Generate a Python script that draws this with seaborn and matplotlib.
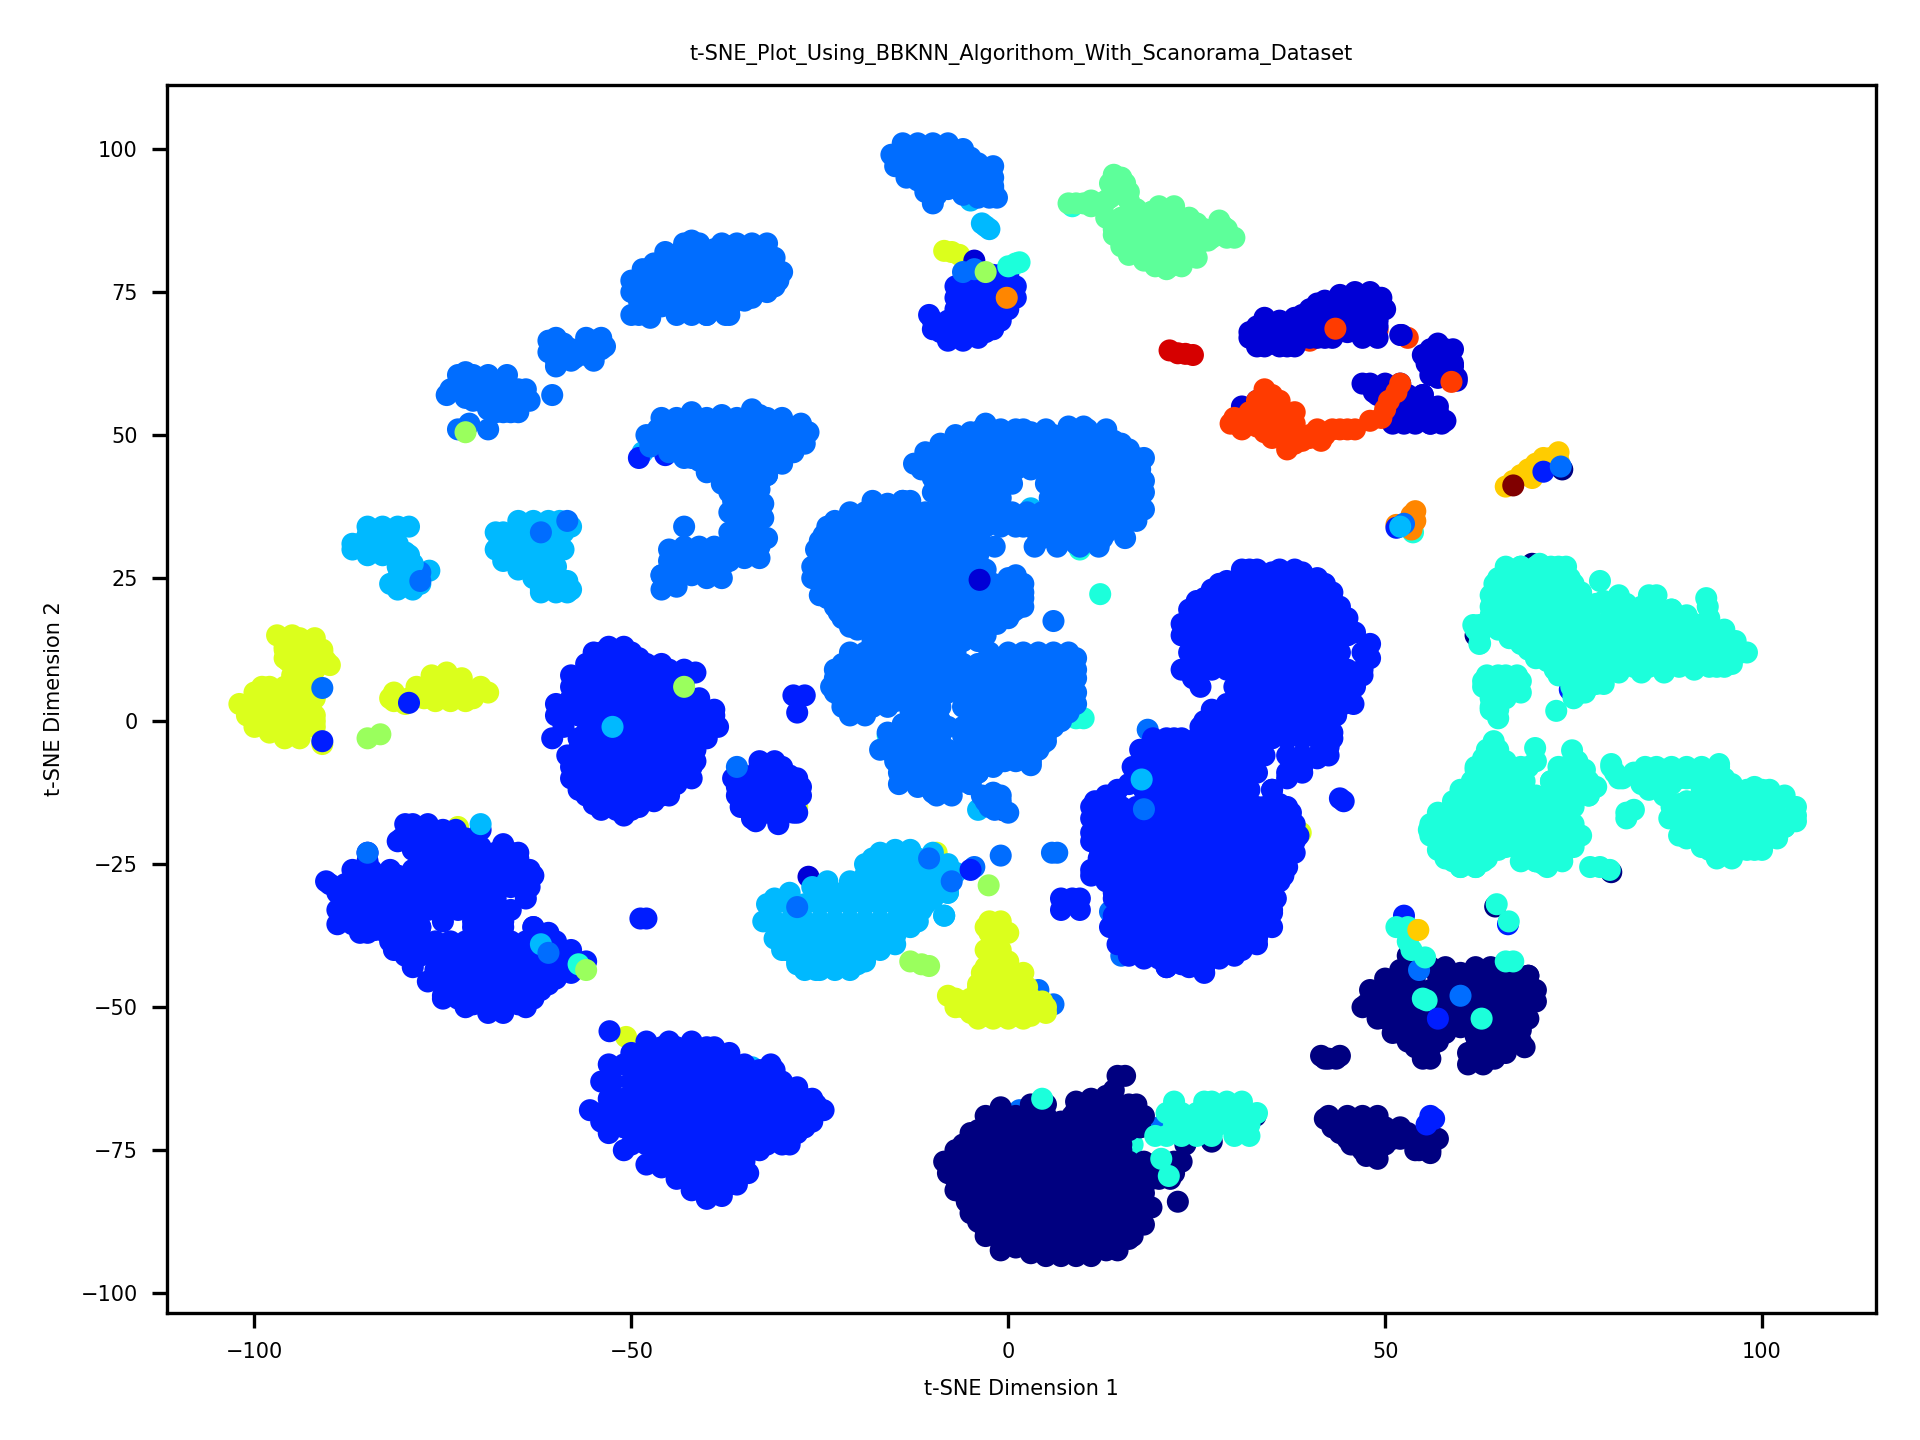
# t-SNE scatter, 14 cell type labels on the jet colormap
import matplotlib
matplotlib.use("Agg")
import matplotlib.pyplot as plt
import pandas as pd
import seaborn as sns

# clusters: label, then rows of (y, [x, x, ...])
under_points = [
    (4, -48.5, 47), (4, -46, 49), (2, -49, 46), (2, -45.5, 46.5), (2, -28.5, 4.5), (2, -27, 4.5), (2, -28, 1.5),
    (5, -16, -2.5), (5, 9, 0.5), (5, 10, 0.5), (8, -19, 2.8), (4, -20, 3.5), (4, -4, -15.5), (0, -0.8, -15.5),
    (1, 2.5, -5.4), (4, 4.5, -4), (4, 3, 37.2), (5, 9.5, 30), (3, 18.5, -1.5), (3, 11.5, -20), (3, 13.5, -33.3),
    (3, 15, -41), (8, 38.8, -19.5), (4, -76.8, 26.3), (3, -78, 26), (8, -91, -4), (8, -73, -18.5), (8, -28, -15),
    (8, -50.7, -55.2), (2, -52.9, -54.2), (4, -34, -60.5), (8, -33, -62), (1, -26.5, -27.2), (8, -9.5, -23),
    (2, -1.5, -40), (3, 4, -47), (3, 6, -49.5), (5, 16.5, -74), (0, 32.8, -69), (0, 27, -67.5), (0, 23.5, -74),
    (0, 27, -73.5), (3, 20, -71), (3, 1.5, -68), (2, 52.5, -34), (0, 53, -41), (0, 64.6, -32.4), (2, 66.3, -35.5),
    (8, -8.5, 82.2), (8, -7.5, 82), (8, -6.5, 81.5), (1, -4.5, 80.5), (4, -5, 91), (5, 8.5, 90),
    (11, 40, 66.5), (11, 49, 68.3), (11, 53, 67), (11, 47, 67.5), (0, 69.5, 27.5), (0, 62, 15), (2, 74.5, 5.5), (0, 80, -26.4),
    (1, 31, 55), (1, 33, 56), (1, 33, 53), (1, 36, 53), (0, 73.5, 44), (5, 53.7, 33),
]

# points along the cluster edges and in the gaps between the rows
edge_navy = [
    (-8.5, -77), (-8, -79), (-7, -82), (-5.5, -84), (-5, -86), (-3, -89), (-1, -91), (1, -92), (3, -93), (14, -92), (16, -90.5),
    (18, -88), (19, -85), (20, -80), (20, -78), (22, -79), (23, -77), (15, -75), (13, -73), (15, -71.5), (17.5, -71), (17, -67),
    (9, -68), (7, -70), (-1, -67.5), (-3, -69), (-5, -72), (-6, -74), (-7, -75), (9, -66.5), (11, -66), (13, -65.5), (14, -64.5), (18, -69),
    (47, -50), (48, -47), (50, -45), (52, -43.5), (54, -44), (56, -43), (58, -43), (60, -44), (62, -43), (64, -43), (66, -43),
    (69, -44.5), (70, -47), (70, -49), (69, -52), (68, -54), (68, -56), (66, -58), (63, -60), (61, -60), (61, -58), (62, -55),
    (52, -53), (51, -54.5), (53, -56), (55, -58), (56, -59), (57, -56), (58, -53), (60, -50), (62, -53), (60, -53.5),
    (41.5, -58.5), (44, -58.5), (42, -69.5), (43, -71), (44, -72), (45.5, -74), (47.5, -76), (49, -76.5), (50, -74), (52, -73),
    (53, -72), (54.5, -75), (56, -75.5), (57, -73), (55, -72.5), (46, -70),
]
edge_dark_blue = [
    (32, 68), (32, 67), (33, 65.5), (35, 66), (37, 65.5), (39, 67), (41, 67), (43, 67), (45, 68), (47, 69), (49, 70), (50, 72),
    (49.5, 74), (46, 75), (48, 75), (44, 74.5), (42, 73.5), (40, 72), (38, 70.5), (36, 70), (34, 70.5), (44, 72), (46, 72), (48, 72),
    (55, 64), (57, 66), (59, 65), (59, 62), (59.5, 60), (57, 60),
    (47, 59), (48.5, 57.5), (50, 56), (52, 54), (53, 56), (55, 57), (57, 54), (58, 52.5), (51, 52), (54, 53.5), (56, 52),
]
edge_blue = [
    (-10.5, 71), (-10, 68.5), (-8, 66.5), (-6, 66.5), (-4, 67), (-2, 68.5), (-1, 70), (0, 72), (1, 74), (1, 76), (0, 78), (-2, 78),
    (-3, 76), (-4, 78), (-6, 77), (-6, 74), (-7, 76),
    (-55, 12), (-49, 11), (-47, 9.5), (-45, 9), (-41.5, 8.5), (-41, 4), (-39, 2), (-38.5, -1), (-40, -3), (-41.5, -7), (-42, -10),
    (-44, -11), (-45, -13), (-47, -14), (-49, -15), (-51, -16.5), (-53, -15), (-55, -14.5), (-57, -12), (-58, -10), (-58.5, -6),
    (-57, -3), (-59, -1), (-60, 1), (-60, 3), (-58, 6), (-58, 8), (-56, 8.5), (-54, 12), (-52, 12), (-50, 12), (-48, 8), (-46, 6),
    (-44, 3), (-52, -3), (-50, -9),
    (-36, -13), (-35.5, -15), (-33, -8), (-30, -8), (-28, -10), (-27.5, -13), (-28, -16), (-34, -17), (-30.5, -18), (-36.5, -10),
    (-34, -10.5), (-30, -12),
    (-90.5, -28), (-89, -30), (-88, -34), (-86, -36.5), (-84, -36.5), (-82.5, -37), (-85, -24.5), (-83, -27), (-81, -27), (-79, -34),
    (-78, -36), (-80, -38), (-81.5, -40), (-79, -43), (-77, -45.5), (-75, -48), (-72, -50), (-69, -51), (-67, -51), (-64, -50),
    (-62, -47), (-60, -45), (-58, -44), (-56, -42), (-58, -40), (-61, -37), (-63, -36), (-66, -33), (-67.5, -34.5), (-70, -34),
    (-64, -31), (-63, -27), (-65, -24), (-67, -21.5), (-70, -22), (-72, -22), (-74, -24), (-75, -19), (-78, -20), (-81, -21),
    (-79, -22.5), (-76, -31), (-77, -33), (-83, -31),
    (-55.5, -68), (-54, -63), (-53, -60), (-50, -58), (-48, -56), (-45, -56), (-42, -56), (-39, -57), (-37, -58), (-33, -61), (-31, -61),
    (-28, -64), (-25.5, -67), (-24.5, -68), (-26, -70), (-28, -72), (-29, -74), (-33, -75), (-35, -77), (-34.5, -79), (-36, -81),
    (-38, -83), (-40, -83.5), (-42, -82), (-44, -80), (-46, -78), (-48, -77.5), (-51, -75), (-53, -72), (-54, -70), (-37, -61), (-35, -60),
    (23, 17), (24, 19.5), (26, 21.5), (27, 23), (29, 24.5), (32, 26.5), (35, 26), (39, 26), (41, 25), (43, 22.5), (44, 20), (45, 18),
    (46, 15.5), (48, 13.5), (48, 11), (47, 8), (46, 6), (44, 5), (44.5, 3), (43.5, 1), (43, -2), (42.5, -4.5), (41, -6.5), (39, -8),
    (37, -10), (35, -12), (24.5, 7.5), (27, 2), (25.5, -1), (22, -3), (20, -3.5), (17.5, -5), (16.5, -8), (16, -11), (13, -13), (11.5, -14),
    (11, -17), (11, -19.5), (12, -22), (12.5, -24.5), (11, -26), (13, -28), (14, -31), (14, -34), (13.5, -36), (14.5, -39), (16, -40.5),
    (18, -41.5), (20, -41.5), (21, -43), (23, -42.5), (26, -44), (28, -41.5), (31, -40), (33, -38), (35, -36), (35, -33.5), (35.5, -31),
    (36, -28), (37, -25.5), (38, -23), (38.5, -20), (37.5, -16), (36, -14.5), (34, -15),
]
edge_light_blue = [
    (-15.5, 99), (-15, 97), (-13.5, 95), (-12, 94.5), (-11, 92.5), (-9.5, 92), (-10, 90.5), (-8, 93), (-6, 92), (-4, 91.5), (-2, 95),
    (-2, 93), (-1.5, 91.5), (-2, 97), (-4, 97.5), (-6, 100), (-13, 100), (-11, 100), (-9, 100), (-7, 97), (-5, 94.5), (-3, 92),
    (-50, 77), (-50, 75), (-48.5, 79), (-47, 80), (-45.5, 82), (-43.5, 82), (-42, 84), (-39, 82.5), (-37, 83), (-35, 82.5), (-33, 82),
    (-31, 79), (-30.5, 77), (-32, 75), (-34, 74), (-37, 72), (-40, 71), (-42, 73), (-44, 74), (-46, 72.5), (-48, 72), (-50, 71),
    (-47.5, 70.5), (-39, 74), (-33, 77), (-45, 77), (-37.5, 71), (-41, 81), (-47, 74.5), (-32, 80),
    (-61, 66.5), (-61, 64.5), (-59.5, 63), (-57.5, 63.5), (-55, 66.5), (-53.5, 65.5), (-58, 65), (-56, 64), (-59, 66), (-60, 62),
    (-74.5, 57), (-73, 59), (-72, 56.5), (-70, 60), (-70, 56), (-68, 59), (-68, 56), (-65, 58), (-65.5, 56), (-64, 56.5), (-67, 54),
    (-65, 54), (-69, 54.5), (-72, 61),
    (-48, 50), (-46.5, 51), (-45, 47), (-43, 46), (-42, 46), (-40, 45), (-40, 43.5), (-38, 41.5), (-30, 46), (-28.5, 47), (-27, 48.5),
    (-30, 45), (-32, 43), (-34, 41), (-37, 40), (-36.5, 38.5), (-37, 36.5), (-32.5, 38), (-32.5, 35.5), (-32, 32), (-36, 31), (-33, 28.5),
    (-35, 28.5), (-44, 26), (-46, 25.5), (-42, 29), (-40, 25), (-38, 25), (-38, 27), (-44, 23.5), (-42, 26), (-40, 27), (-36, 33), (-45, 30),
    (-44, 29), (-27.5, 52), (-28, 50), (-30, 52), (-38, 53.5), (-42, 54), (-34, 54.5), (-33, 53.5), (-31, 52),
    (-12.5, 45), (-11, 47), (-9, 48.5), (-7, 50), (-5, 50.5), (-3, 52), (-1, 50), (1, 51), (3, 50.5), (6, 50), (8, 51.5), (10, 51.5),
    (12, 50), (14, 49), (16, 47.5), (18, 46), (17.5, 44), (18, 42), (18, 40), (18, 37), (17, 35), (15, 33.5), (13, 33), (11, 32), (9, 31),
    (6.5, 32), (4, 32), (2, 34), (0, 35), (-3, 35.5), (-5, 37), (-6.5, 35), (-10, 40), (-10, 42.5), (-8, 37.5),
    (-26, 27), (-25.5, 30), (-24.5, 32.5), (-23, 35), (-20.5, 35.5), (-18, 37), (-16, 38), (-14, 38.5), (-26, 25), (-25, 22), (-23, 20),
    (-22, 18), (-20, 16), (-18, 15), (-4, 24), (-4, 22), (-4, 29), (-3.5, 31), (-4, 33), (-5, 35), (2, 22.5), (2, 20), (0, 18), (1, 19.5),
    (-1.5, 17), (-3, 15), (0, 25), (1, 25.5),
    (-23, 9), (-23.5, 6), (-22, 3.5), (-21, 1), (-19, 1), (-17.5, 3), (-15, 3.5), (-13, 2), (-14, -0.5), (-16, -2), (-17, -5), (-15, -7),
    (-14.5, -9), (-12, -11.5), (-10, -12.5), (-8, -12), (-5, -11), (-4, -9), (-2, -12.5), (-1, -14), (0, -16), (-3, -14), (-6, -1), (-8, -1),
    (-9, 0), (-15.5, -4), (9, 9), (9, 11), (8.5, 5), (9, 3), (8, 1.5), (6, -1), (5, -3.5), (3, -5), (1, -6), (-0.5, -7), (-2, -6.5), (-2, -8),
]
edge_sky = [
    (-87, 31), (-85, 32.5), (-83, 31), (-81, 31), (-80, 29.5), (-85, 30), (-79, 27.5), (-81, 25), (-78, 24), (-82, 24),
    (-68, 33), (-68, 30), (-67, 28), (-65, 26.5), (-63, 25), (-60, 27), (-59, 30), (-60, 32), (-58, 34), (-62, 23), (-59, 24), (-58, 23),
    (-63, 30), (-61, 33),
    (-32, -32), (-32.5, -35), (-31, -38), (-30, -40), (-28, -42), (-25.5, -43.5), (-23, -43), (-19, -42), (-17, -40), (-15, -37.5),
    (-13, -36), (-11.5, -33), (-10, -31), (-8, -30), (-7, -26.5), (-8, -25), (-10, -23), (-13, -22.5), (-15, -22.5), (-17, -23), (-19, -25),
    (-21, -28), (-24, -28), (-26, -29), (-29, -30), (-31, -31), (-15, -39), (-17, -26), (-15, -25), (-12, -25),
]
edge_cyan = [
    (62, -8.5), (56, -20), (57.5, -22), (58, -24), (60, -25.5), (62, -25.5), (63.5, -24), (66, -22), (67, -21), (68, -23), (70, -24.5),
    (71, -25), (73.5, -23), (75, -22), (76, -20), (75, -18), (75, -15), (74, -11), (73, -8), (70, -7), (66.5, -9.5), (66, -11), (60, -12),
    (59, -14), (57, -16), (55.8, -19), (64, -16), (66, -15.5), (67, -15), (74, -16), (72, -10.5), (73.5, -11), (76.5, -8.5), (75.5, -7),
    (78, -11.5), (77, -13), (76.5, -10.5), (60.5, -14), (62, -11), (64, -8), (66, -7), (63.5, -5), (65, -5),
    (80, -7.5), (80.5, -9), (81.5, -10), (83, -9), (84, -11), (85.5, -11.5), (87, -13), (89, -14.5), (90, -16), (90, -18.5), (91, -20),
    (89, -20), (92, -22), (94, -23.5), (96, -23), (98, -22.5), (100, -22), (102, -20), (103, -18.5), (104.5, -17.5), (104.5, -15),
    (103, -13), (101, -12), (99, -11.5), (96, -11), (94.3, -7.5), (88, -11), (90, -10), (92, -10), (87, -8.5), (88, -15),
    (64, 22), (64.5, 24), (66, 26), (68, 27), (70.5, 27.5), (73, 27), (75, 24), (76, 22), (75.5, 20), (75, 18), (64, 20), (64, 18.5),
    (65, 16), (66.5, 14.5), (68, 13.5), (70, 11), (71.5, 10.5), (72.5, 9), (73, 8), (75.5, 8), (79, 8), (81, 8.5), (84, 8.5), (87, 8.5),
    (91, 9), (94, 9.5), (96, 10), (98, 12), (96.5, 14), (95, 16), (93, 18), (92.8, 20), (90, 18.5), (88, 19.5), (85.5, 21), (84, 20),
    (82, 20.5), (80, 19.5), (78, 20.5), (77, 18), (77, 16), (76, 15), (74.5, 16.5), (76, 10.5), (78, 7.5), (79, 6.5), (76.5, 5), (75, 4),
    (74.7, 6), (65, 3), (66, 4.5), (63, 7), (68, 7), (68, 5), (66, 8), (65, 0.5), (64, 2.5), (62, 16), (62.5, 15), (62.5, 13.5),
]
edge_green = [
    (13, 88), (14, 85), (15, 83), (16, 81.5), (18, 82), (19, 89), (20, 90), (22, 90), (24, 88), (25, 87), (26, 85), (25, 83), (25, 81),
    (23, 80), (21, 79), (17, 87), (20, 85), (18, 84), (22, 85), (14, 86), (15, 88), (17, 89.5), (18, 80.5), (24, 84), (15, 95), (14, 95.5),
    (13.5, 94), (15.5, 94), (16, 91), (14, 92), (11, 90), (8, 90.5), (28, 87.5), (29, 86), (30, 84.5), (26, 86),
]
edge_yellow = [
    (-97, 15), (-95, 15), (-93, 14), (-91, 12), (-90.5, 10.5), (-92, 9), (-96, 11), (-95, 8), (-93, 6), (-97, 5), (-99, 6), (-100, 5),
    (-102, 3), (-101, 1), (-100, -1), (-98, -1), (-96, -3), (-94, -3), (-92, -1), (-92, 1), (-92, 4), (-94, 2), (-96, 2), (-96, 13),
    (-80, 3), (-82, 4), (-78, 4.5), (-75, 7), (-73, 6), (-71, 4), (-78, 5), (-70, 6),
    (-8, -48), (-7, -50), (-5, -51), (-4, -46.5), (-3, -43), (-1, -42), (-3, -40), (-3, -36), (-1, -36), (0, -37), (-2, -38), (-1, -40),
    (0, -42), (2, -44), (2.5, -46.5), (4.5, -49), (5, -51), (2, -52), (0, -52), (-2, -52), (-4, -52), (-6, -49), (3, -49),
]
edge_orange_red = [
    (30, 53), (31, 51), (33, 51.5), (33, 55), (35, 57), (37, 52.5), (37, 50), (40, 49.5), (43, 51), (46, 51), (38, 48.5), (35, 49.5),
    (37, 47.5), (41.5, 49),
]

navy_blob = [
    (-62, [14.5, 15.5]), (-67, [3, 5, 12, 14, 16]), (-69, [-1, 1, 3, 5, 8.5, 11, 13, 15, 16.5]),
    (-71.5, [-4, -2, 0, 2, 4, 6, 8, 10, 12, 14, 16]), (-74, [-5, -3, -1, 1, 3, 5, 7, 9, 11, 13, 15]),
    (-77, [-7, -6, -4, -2, 0, 2, 4, 6, 8, 10, 12, 14, 16, 18, 20, 22]),
    (-80, [-7, -5, -3, -1, 1, 3, 5, 7, 9, 11, 13, 15, 17, 19, 21.5]),
    (-82.5, [-6, -4, -2, 0, 2, 4, 6, 8, 10, 12, 14, 16, 18]), (-84, [22.5]),
    (-85, [-5, -3, -1, 1, 3, 5, 7, 9, 11, 13, 15, 17, 18.5]),
    (-87.5, [-4, -2, 0, 2, 4, 6, 8, 10, 12, 14, 16, 17.5]),
    (-90, [-3, -1, 1, 3, 5, 7, 9, 11, 13, 15, 16.5]),
    (-92.5, [-1, 3, 5, 7, 9, 11, 13, 14.5]), (-93.5, [5, 7, 9, 11]),
]
navy_right = [
    (-44.5, [52, 54, 57, 59, 61, 63, 65, 67, 69]), (-47, [50, 52, 54, 56, 58, 60, 62, 64, 66, 68, 69.5]),
    (-49.5, [47.5, 49, 51, 53, 55, 57, 59, 61, 63, 65, 67, 69]), (-52, [49, 50, 52, 54, 56, 58, 60, 63, 65, 67]),
    (-54.5, [52, 54, 56, 58, 64, 66, 67]), (-57, [54, 56, 62, 64, 66, 68.5]), (-59, [55, 62, 63, 64.5]),
]
navy_small = [
    (-59, [42, 42.5, 43.5]), (-69, [42.5, 45, 47, 49]), (-71, [43.5, 46, 48, 50, 52]), (-73, [45, 47, 49, 51, 54, 56]),
    (-75, [47, 49, 54, 56]), (-75.6, [48.7]),
]
dark_blue_top = [
    (73, [41, 43, 45, 47, 48.5]), (71, [39, 41, 43, 45, 47, 49]), (69, [33, 35, 37, 39, 41, 43, 45, 47, 49]),
    (67.5, [52]), (67, [32.5, 34, 36, 38, 40, 42, 47, 49]), (65.5, [34, 36, 38]), (65, [56, 58]), (62.5, [55.5, 57.5, 59]),
    (60.5, [56, 58]), (59.5, [59.5]),
]
dark_blue_low = [
    (59, [48, 50, 52]), (57, [49, 51, 53, 55]), (55, [51, 53, 55, 57]), (53, [52, 54, 56, 57]), (52, [52.5, 54, 56, 57.5]),
]
blue_top = [
    (76, [-6, -4, -2, 0]), (78, [-5, -3, -1]), (74, [-7, -5, -3, -1, 0.5]), (72, [-7, -5, -3, -1]),
    (70, [-10, -8, -6, -4, -2]), (68, [-9, -7, -5, -3]), (67.5, [-8, -6]),
]
blue_left_a = [
    (13, [-53, -51]), (10, [-56, -54, -52, -50, -48, -46]), (9, [-43]), (7, [-57, -55, -53, -51, -49, -47, -45, -43]),
    (4, [-58, -56, -54, -52, -50, -48, -46, -44, -42]), (1, [-59, -57, -55, -53, -51, -49, -47, -45, -43, -41, -39]),
    (-2, [-56, -54, -52, -50, -48, -46, -44, -42, -40]), (-3, [-60.5]),
    (-5, [-57, -55, -53, -51, -49, -47, -45, -43, -41.5]), (-8, [-58, -56, -54, -52, -50, -48, -46, -44, -42]),
    (-11, [-57, -55, -53, -51, -49, -47, -45]), (-13, [-56, -54, -52, -50, -48, -46]), (-15.5, [-54, -52, -50]),
]
blue_left_b = [
    (-7, [-33, -31]), (-9.5, [-35, -33, -31, -29]), (-11.5, [-36, -34, -32, -30, -28, -27.5]),
    (-14, [-35, -33, -31, -29]), (-16, [-34, -32, -30, -28.5]), (-17.5, [-33.5, -30.5]),
]
blue_left_c = [
    (-23, [-85]), (-26, [-87, -84.5, -82]), (-28.5, [-90, -88, -86, -84, -82, -80]), (-31, [-88, -86, -84, -82, -80]),
    (-33, [-89, -87, -85, -83, -81]), (-35.5, [-89, -87, -85, -83]), (-37, [-86, -85]),
    (-18, [-80, -79, -77]), (-19, [-73.3, -70]), (-20.5, [-80.5, -78, -76, -74, -72]),
    (-23, [-78, -76, -74, -72, -70, -68, -66, -65]), (-26, [-79, -77, -75, -73, -71, -69, -67, -65, -63.5]),
    (-29, [-78, -76, -74, -72, -70, -68, -66, -64, -63.5]), (-31, [-78, -76, -74, -72, -70, -68]),
    (-33, [-75, -73, -71, -69, -68]), (-35, [-75, -71, -69, -67]),
    (-36, [-82, -80, -78, -71, -69, -67, -63]), (-38.5, [-82, -80, -78, -76, -74, -72, -70, -68, -66, -64, -62, -60]),
    (-41, [-80, -78, -76, -74, -72, -70, -68, -66, -64, -62, -60, -58]), (-43.5, [-76, -74, -72, -70, -68, -66, -64, -62, -60, -58]),
    (-46, [-75, -73, -71, -69, -67, -65, -63, -61]), (-48.5, [-75, -73, -71, -69, -67, -65, -63]),
    (-49.5, [-71, -67, -65]), (-34.5, [-48.8, -48]),
]
blue_bottom = [
    (-57, [-48, -46, -44, -42, -40]), (-60, [-51, -49, -47, -45, -43, -41, -39, -37, -31.5]),
    (-63, [-52.5, -50, -48, -46, -44, -42, -40, -38, -36, -34, -32, -30]),
    (-66, [-53, -51, -49, -47, -45, -43, -41, -39, -37, -35, -33, -31, -29, -27, -26]),
    (-68.5, [-54, -52, -50, -48, -46, -44, -42, -40, -38, -36, -34, -32, -30, -28, -26]),
    (-71, [-53, -51, -49, -47, -45, -43, -41, -39, -37, -35, -33, -31, -29, -27]),
    (-74, [-50, -48, -46, -44, -42, -40, -38, -36, -34, -32, -30]),
    (-76.5, [-47, -45, -43, -41, -39, -37, -35]), (-79, [-44, -42, -40, -38, -36]),
    (-81, [-41, -39, -37]), (-82.5, [-40]),
]
blue_center = [
    (26.5, [31, 33, 36, 38]), (24, [28, 30, 32, 34, 36, 38, 40, 42]), (21, [25, 27, 29, 31, 33, 35, 37, 39, 41, 43]),
    (18, [24, 26, 28, 30, 32, 34, 36, 38, 40, 42, 44]), (15, [23, 25, 27, 29, 31, 33, 35, 37, 39, 41, 43, 45]),
    (12, [24, 26, 28, 30, 32, 34, 36, 38, 40, 42, 44, 47]), (9, [23, 25, 27, 29, 31, 33, 35, 37, 39, 41, 43, 45, 47]),
    (6, [25.5, 30, 32, 34, 36, 38, 40, 42, 44]), (3, [29, 31, 33, 35, 37, 39, 41, 43, 45.8]),
    (0, [26, 28, 30, 32, 34, 36, 38, 40, 42]), (-3, [19.2, 21, 23, 25, 27, 29, 31, 33, 35, 37, 39, 41, 43]),
    (-6, [18, 20, 22, 24, 26, 28, 30, 32, 34, 37, 39, 41, 42.5]), (-9, [17, 19, 21, 23, 25, 27, 29, 31, 33, 37, 39]),
    (-12, [14.5, 18, 20, 22, 24, 26, 28, 30, 32, 35]), (-13.5, [44]), (-14, [44.5]),
    (-15, [11, 13, 15, 17, 19, 21, 23, 25, 27, 29, 31, 33, 35, 37]),
    (-18, [12, 14, 16, 18, 20, 22, 24, 26, 28, 30, 32, 34, 36, 38]),
    (-21, [11, 13, 15, 17, 19, 21, 23, 25, 27, 29, 31, 33, 35, 37, 38]),
    (-24, [12, 14, 16, 18, 20, 22, 24, 26, 28, 30, 32, 34, 36]),
    (-27, [11, 13, 15, 17, 19, 21, 23, 25, 27, 29, 31, 33, 35, 36.5]),
    (-30, [14, 16, 18, 20, 22, 24, 26, 28, 30, 32, 34]), (-33, [15, 17, 19, 21, 23, 25, 27, 29, 31, 33, 35]),
    (-36, [14, 16, 18, 20, 22, 24, 26, 28, 30, 32, 34]), (-39, [15, 17, 19, 21, 23, 25, 27, 29, 31, 33]),
    (-41, [16, 18, 20, 22, 24, 26, 28, 30]), (-43, [21, 24, 26]),
    (-31, [7, 8.5, 9.5]), (-33, [7, 9.5]),
]
light_blue_top = [
    (101, [-14, -12, -10, -8]), (98.5, [-15, -13, -11, -9, -7, -5]), (96, [-13, -11, -9, -7, -5, -3]),
    (93.5, [-10, -8, -6, -4, -2]), (91.5, [-10, -2.5]),
]
light_blue_upper = [
    (83.5, [-43, -41, -38, -36, -34, -32]), (81, [-45, -43, -41, -39, -37, -35, -33, -31]),
    (78.5, [-47, -45, -43, -41, -39, -37, -35, -33, -31, -30]), (76, [-49, -47, -45, -43, -41, -39, -37, -35, -33, -31]),
    (73.5, [-49, -47, -45, -43, -41, -39, -37, -35]), (71, [-49, -44, -42, -40, -37]),
    (67, [-60, -56, -54]), (65, [-60.5, -58, -56, -54]), (63, [-60, -58, -55]),
    (60.5, [-73, -71, -69, -66.5]), (58, [-74, -72, -70, -68, -66, -64]), (57, [-60.5]),
    (56, [-71, -69, -67, -65, -63.5]), (54, [-68, -66]), (52, [-71.5]), (51, [-73, -69]),
]
light_blue_arm = [
    (53, [-46, -44, -42, -40, -38, -36, -34, -32, -30]), (50.5, [-46, -44, -42, -40, -38, -36, -34, -32, -30, -28, -26.5]),
    (48, [-47.5, -45, -43, -41, -39, -37, -35, -33, -31, -29]), (45.5, [-41, -39, -37, -35, -33, -31]),
    (43, [-38, -36, -34, -32]), (40.5, [-36, -34, -33]), (38, [-35.5, -33.5]), (35.5, [-35, -33.5]), (34, [-43]),
    (33, [-37, -35, -34]), (30.5, [-43, -41, -39, -37, -35, -33]), (28, [-45, -43, -41, -39, -37]),
    (25.5, [-46, -44, -42, -39.5, -38.5]), (23, [-46]),
]
light_blue_center = [
    (51, [-3.5, -1, 2, 5, 8, 10.5, 13]), (48.5, [-7, -5, -3, -1, 1, 3, 5, 7, 9, 11, 13, 15]),
    (46, [-9.5, -7.5, -5, -3, -1, 1, 3, 5, 7, 9, 11, 13, 15, 17]),
    (44, [-11.5, -9, -7, -5, -3, -1, 1, 3, 5, 7, 9, 11, 13, 15, 17]),
    (41.5, [-9, -7, -5, -3, -1, 0.5, 5, 7, 9, 11, 13, 15, 17.5]),
    (39, [-9, -7, -5, -3, -1, 5.5, 7.5, 9.5, 11.5, 13.5, 15.5, 17.5]),
    (36.5, [-8, -5.5, -3.5, -1.5, 0.5, 2.5, 4.5, 6.5, 8.5, 10.5, 12.5, 14.5, 17]),
    (34, [-3, -1, 1, 3, 5, 7, 9, 11, 13, 15]), (32, [4.5, 6.5, 8.5, 10.5, 12.5, 15.5]), (30.5, [3.5, 6.5, 9.5, 12, -1.8]),
    (38.5, [-18, -14, -13]), (36.5, [-21, -19, -17, -15, -13, -11, -9]),
    (34, [-24, -22, -20, -18, -16, -14, -12, -10, -8, -6]), (31.5, [-25, -23, -21, -19, -17, -15, -13, -11, -9, -7, -5]),
    (29, [-24, -22, -20, -18, -16, -14, -12, -10, -8, -6]),
    (26.5, [-25.5, -23, -21, -19, -17, -15, -13, -11, -9, -7, -5, -3]),
    (25, [0.5]), (24, [-24.5, -22, -20, -18, -16, -14, -12, -10, -8, -6, -4, -2, 0, 2]),
    (21.5, [-24, -23, -21, -19, -17, -15, -13, -11, -9, -7, -5, -3, -1, 1, 2]),
    (19, [-22.5, -20, -18, -16, -14, -12, -10, -8, -6, -4, -2, 0.5]),
    (16.5, [-21, -19, -17, -15, -13, -11, -9, -7, -5, -3]), (17.5, [6]),
    (14, [-18, -16, -14, -12, -10, -8, -6, -4]),
    (12, [-21, -19, -17, -15, -13, -11, -9, -7, -2.5, 0, 2, 4, 6, 8]),
    (10, [-22, -20, -18, -16, -14, -12, -10, -8, -6, -4, -2, 0, 2, 4, 6, 8.5]),
    (7.5, [-23, -21, -19, -17, -15, -13, -11, -9, -7, -5, -3, -1, 1, 3, 5, 7, 9]),
    (5, [-23, -22, -20, -18, -16, -14, -12, -10, -8, -6, -4, -2, 0, 2, 4, 6, 8, 9]),
    (2.5, [-22, -20, -18, -16, -11, -9, -6, -4, -2, 0, 2, 4, 6, 8]),
    (0, [-12, -10, -5, -3, -1, 1, 3, 5, 7]), (-2.5, [-15, -13, -11, -9, -6, -4, -2, 0, 2, 4, 5]),
    (-5, [-16, -14, -12, -10, -8, -6, -4, -2, 0, 2, 4]), (-7, [-13, -11, -9, -7, -5, -4, -1, 1, 3]), (-9, [-13, -11, -9, -7, -5, -4]),
    (-11, [-14.5, -11, -9, -7, -5]), (-13, [-9.5, -7.5, -3.5, -1]), (-15, [-2.5, -1.8, -1]),
    (-7.7, [3]), (-23, [5.8, 6.5]), (-23.5, [-1]), (-25.5, [-4.5]),
]
sky_clusters = [
    (34, [-85, -83, -81, -79.5]), (31, [-86, -84, -82]), (30, [-87]), (29, [-85, -83, -81, -79.5]), (27, [-81]), (26, [-80]),
    (24, [-81, -79]), (23, [-81, -79]),
    (35, [-65, -63, -61, -59.5]), (33, [-67, -65, -63, -61, -59]), (31, [-67.5, -66, -64, -62, -60]), (29, [-67, -65, -63, -61]),
    (27, [-65, -63, -60.5]), (24.5, [-62, -60, -58.5]), (22.5, [-62, -60, -58.5]),
]
sky_blob = [
    (-24, [-18, -16, -14, -12, -10]), (-27, [-19, -17, -15, -13, -11, -9, -7.5]),
    (-30, [-24, -22, -20, -18, -16, -14, -12, -10, -8]), (-32, [-31, -29, -27, -25, -23, -21, -19, -17, -15, -13, -11]),
    (-35, [-31, -29, -27, -25, -23, -21, -19, -17, -15, -14, -12]), (-34, [-8.5]),
    (-37.5, [-30, -28, -26, -24, -22, -20, -18, -16]), (-40, [-29.5, -27, -25, -23, -21, -19]),
    (-42.5, [-28, -26, -24, -22, -20]), (-43.5, [-27, -25, -23, -21]), (87, [-3.5]), (86.5, [-3]), (86, [-2.5]),
]
cyan_upper = [
    (27, [66, 68, 70, 72, 74]), (25, [65, 67, 69, 71, 73, 74.5]), (24.5, [78.5]), (22.5, [64.5, 66, 68, 70, 72, 74, 76]),
    (21.5, [92.6]), (22, [81, 85, 86]), (21, [79]), (20, [65, 67, 69, 71, 73, 75]), (19.5, [80, 82, 84, 86, 88]),
    (17.5, [65, 67, 69, 71, 73]), (17, [77, 79, 81, 83, 85, 87, 89, 91, 93]), (16.8, [61.7, 62.5]),
    (15, [68, 70, 72, 74]), (14.5, [75, 77, 79, 81, 83, 85, 87, 89, 91, 93, 95]), (13.6, [62.6]),
    (12.5, [69, 71, 73]), (12, [75, 77, 79, 81, 83, 85, 87, 89, 91, 93, 95, 97.2]),
    (9.5, [73, 75, 77, 79, 81, 83, 85, 87, 89, 91, 93, 95]), (8, [63.5, 65, 67.5]), (6.5, [78]), (6, [63, 65, 67.5, 77]),
    (5, [76]), (4.5, [75]), (4, [64, 66]), (2, [65, 64]), (1.8, [72.7]),
]
cyan_lower = [
    (-3.5, [64.4]), (-4.7, [69.9]), (-5.1, [74.8]), (-6.5, [63, 65]), (-8, [62, 64, 66, 68, 69, 74, 75.5, 80, 84.5, 86, 88, 90, 92, 94.3]),
    (-10, [81, 85, 87, 89, 91, 93, 95]), (-10.5, [61.5, 63, 65, 67, 68.5, 72, 75, 77]), (-12, [85, 87, 92, 94, 96, 98, 100]),
    (-13, [61, 63, 65, 67, 68, 70, 72, 74, 75.5, 77]), (-14, [90, 92, 94, 96, 98, 100, 102]),
    (-15.5, [59, 61, 63, 65, 69, 71, 73, 83]), (-16, [82]), (-16.5, [92, 94, 96, 98, 100, 102, 104.5]), (-17, [82, 87.7]),
    (-18, [56, 58, 60, 62, 64, 66, 68, 70, 72, 74]), (-18.5, [91, 93, 95, 97, 99, 101, 103]),
    (-20, [57, 59, 61, 63, 65, 67, 69, 71, 73, 75]), (-20.5, [90, 92, 94, 96, 98, 100, 102]),
    (-22.5, [57, 59, 61, 63, 65, 68, 70, 72, 74, 93, 95, 97, 99, 100]), (-24, [94, 96]),
    (-24.5, [59, 61, 63, 68, 70, 72, 73.5]), (-25.5, [60, 62, 71.5, 77.2, 78.5]), (-26, [79.8]),
]
cyan_low_mid = [
    (-66.5, [22, 26, 27, 29, 31]), (-68.5, [21, 23, 25, 27, 29, 31, 33]), (-70.5, [22, 24, 26, 28, 30, 32]),
    (-72.5, [19.5, 21, 23, 25, 27, 30, 32]),
]
green_cluster = [
    (94, [14.6]), (93, [14]), (92.5, [15, 16]), (91.5, [13.5]), (91, [11, 13]), (90.5, [9, 10, 12]),
    (89, [17, 19, 21, 22]), (87, [16, 18, 20, 22, 24]), (86.5, [28.5]), (85, [15, 17, 19, 21, 23, 25, 28]),
    (84.5, [27, 29]), (84, [26.5]), (83, [16, 18, 20, 22, 24]), (81, [19, 21, 23]), (79.5, [19.5, 21.5, 23]),
]
yellow_clusters = [
    (14.5, [-95, -94, -92]), (12.5, [-96, -94, -92, -91]), (10.5, [-95.5, -93, -91]), (9.8, [-90]), (8, [-94]), (7, [-92.5]),
    (6, [-98, -96, -94]), (4, [-100, -98, -96, -94, -92.5]), (2, [-101, -99, -97, -95, -93]), (0, [-100, -98, -96, -94, -92]),
    (-2, [-98, -96, -94]),
    (8.5, [-74.5]), (8, [-76.5]), (7.5, [-72.5]), (6, [-78.5, -74.5]), (5, [-81.5, -76, -72.5, -70.5, -69]), (4, [-79.5, -77.5]),
    (3.5, [-81.5, -76, -74, -72]),
    (-35, [-2.5, -1]), (-37, [-2.5]), (-37.5, [-1]), (-39.5, [-1.5]), (-41.5, [-2]), (-44, [-3.5, -1, 0]), (-46, [-4, -2, 0, 1.5]),
    (-48.5, [-7, -5, -3, -1, 1, 3]), (-50, [-6, -4, -2, 0, 2, 4, 5]), (-51.5, [-3, -1, 1, 3]),
]
orange_red_cluster = [
    (58, [34]), (56, [33, 34, 36]), (54, [32, 34, 36, 38]), (53.5, [32]), (52, [29.5, 30.5, 34, 36, 38]), (51, [35.5, 41, 44, 45]),
    (50.5, [34]), (50, [36, 38, 40, 42]), (49, [39]), (48.5, [37]), (59, [52]), (57.5, [51.5]), (56, [50.5]), (54.5, [50]),
    (53, [49.5]), (52.5, [48]),
]
golden_streak = [
    (41, [66]), (42, [67]), (43, [68]), (44, [69]), (45, [70]), (46, [71, 72]), (47, [73]), (45.5, [73]), (44.5, [71]), (42.5, [69.5]),
]
orange_spot = [(34.3, [51.5]), (36, [53.5]), (36.7, [54]), (35, [54]), (33.5, [53.5])]
red_spot = [(64.8, [21.4]), (64.2, [23.5]), (64, [24.5])]

over_points = [
    (3, -78, 24.5), (7, -72, 50.5), (3, -62, 33), (3, -58.5, 35), (3, -91, 5.8), (2, -91, -3.5), (7, -85, -3), (7, -83.3, -2.3),
    (2, -79.5, 3.2), (4, -52.5, -1), (7, -43, 6), (3, -36, -8), (3, -85, -23), (4, -70, -18), (4, -62, -39), (3, -61, -40.5),
    (5, -57, -42.5), (7, -56, -43.5), (3, -28, -32.5), (1, -3.8, 24.7), (5, 12.2, 22.2), (3, -1.8, -15.5), (3, 18, -15.4),
    (4, 17.7, -10.2), (7, -2.6, -28.7), (3, -10.5, -24), (3, -7.5, -28), (2, -5, -26), (4, -8.5, -34), (7, -13, -42),
    (7, -11.5, -42.5), (7, -10.5, -42.8), (5, 4.5, -66), (5, 20.3, -76.5), (5, 21.3, -79.5),
    (5, 66, -42), (5, 67, -42), (5, 55, -48.5), (5, 55.5, -48.8), (3, 60, -48), (2, 57, -52), (5, 62.8, -52), (3, 54.5, -43.5),
    (5, 51.5, -36), (5, 53, -36), (5, 54, -36.5), (5, 53, -38.5), (5, 53.5, -40), (5, 55.3, -41.3), (9, 54.4, -36.5),
    (5, 64.8, -32), (5, 66.4, -35), (2, 56, -69), (2, 55.5, -70.5), (2, 56.5, -69.5),
    (3, -6, 78.5), (3, -4.5, 79), (7, -3, 78.5), (5, 0, 79.5), (5, 1, 80), (5, 1.5, 80.2), (10, -0.2, 74),
    (11, 43.4, 68.6), (1, 52.2, 67.5), (11, 58.8, 59.3), (12, 22.5, 64.3),
    (13, 67, 41.2), (2, 71, 43.6), (3, 73.3, 44.5), (3, 52.5, 34.5), (2, 51.5, 33.8), (4, 52, 34),
]

edge_groups = [
    (0, edge_navy), (1, edge_dark_blue), (2, edge_blue), (3, edge_light_blue), (4, edge_sky), (5, edge_cyan),
    (6, edge_green), (8, edge_yellow), (11, edge_orange_red),
]
cluster_groups = [
    (0, navy_blob), (0, navy_right), (0, navy_small), (1, dark_blue_top), (1, dark_blue_low), (2, blue_top),
    (2, blue_left_a), (2, blue_left_b), (2, blue_left_c), (2, blue_bottom), (2, blue_center),
    (3, light_blue_top), (3, light_blue_upper), (3, light_blue_arm), (3, light_blue_center),
    (4, sky_clusters), (4, sky_blob), (5, cyan_upper), (5, cyan_lower), (5, cyan_low_mid), (6, green_cluster),
    (8, yellow_clusters), (9, golden_streak), (10, orange_spot), (11, orange_red_cluster), (12, red_spot),
]

rows = [{"x": x, "y": y, "label": label} for label, x, y in under_points]
for label, edge in edge_groups:
    rows.extend({"x": x, "y": y, "label": label} for x, y in edge)
for label, cluster in cluster_groups:
    for y, xs in cluster:
        rows.extend({"x": x, "y": y, "label": label} for x in xs)
rows.extend({"x": x, "y": y, "label": label} for label, x, y in over_points)
df = pd.DataFrame(rows)

jet = plt.get_cmap("jet")
palette = {i: jet(i / 13) for i in range(14)}

fig, ax = plt.subplots(figsize=(6.4, 4.8), dpi=300)
sns.scatterplot(data=df, x="x", y="y", hue="label", palette=palette, s=28, linewidth=0, legend=False, ax=ax)

ax.set_xlim(-111.6, 115.1)
ax.set_ylim(-103.5, 111.2)
ax.set_xticks([-100, -50, 0, 50, 100])
ax.set_yticks([-100, -75, -50, -25, 0, 25, 50, 75, 100])
ax.tick_params(labelsize=5)
ax.set_title("t-SNE_Plot_Using_BBKNN_Algorithom_With_Scanorama_Dataset", fontsize=5)
ax.set_xlabel("t-SNE Dimension 1", fontsize=5)
ax.set_ylabel("t-SNE Dimension 2", fontsize=5)

fig.subplots_adjust(left=0.087, right=0.977, bottom=0.088, top=0.941)
fig.savefig("out.png", dpi=300)
